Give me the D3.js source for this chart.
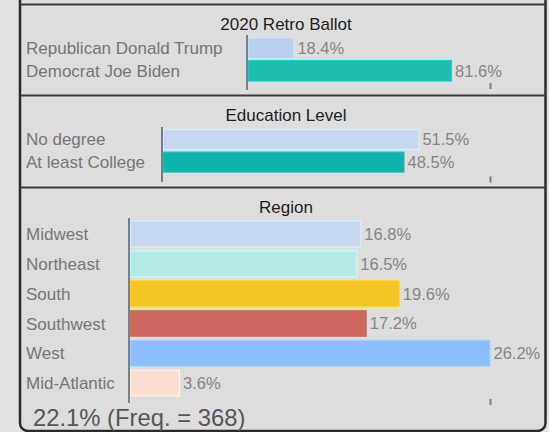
<!DOCTYPE html>
<html><head><meta charset="utf-8">
<script src="https://cdn.jsdelivr.net/npm/d3@7"></script>
<style>
html,body{margin:0;padding:0;background:#e2e2e2;}
svg{display:block;font-family:"Liberation Sans",Arial,sans-serif;}
</style></head>
<body><svg id="c" width="549" height="432"></svg>
<script>
const titles = ["2020 Retro Ballot", "Education Level", "Region"];
const ballotCats = ["Republican Donald Trump", "Democrat Joe Biden"];
const ballotVals = [18.4, 81.6];
const ballotColors = ["#b9d0f0", "#1cbcb1"];
const eduCats = ["No degree", "At least College"];
const eduVals = [51.5, 48.5];
const eduColors = ["#c6d8ef", "#0fb3a8"];
const regionCats = ["Midwest", "Northeast", "South", "Southwest", "West", "Mid-Atlantic"];
const regionVals = [16.8, 16.5, 19.6, 17.2, 26.2, 3.6];
const regionColors = ["#c6d8f0", "#b3eae5", "#f5c425", "#cd665e", "#8bbfff", "#fddfd2"];
const domainMax = [97, 65.8, 26.2];
const footer = "22.1% (Freq. = 368)";

const svg = d3.select("#c");
const fontSize = 17;

// outer box
svg.append("rect").attr("x", 20).attr("y", -12).attr("width", 525.5).attr("height", 443)
  .attr("rx", 8).attr("fill", "#dddddd").attr("stroke", "#2a2a2a").attr("stroke-width", 2.5);

// separators
[4.5, 95.5, 187.5].forEach(y => {
  svg.append("line").attr("x1", 20).attr("x2", 545.5).attr("y1", y).attr("y2", y)
    .attr("stroke", "#3a3a3a").attr("stroke-width", 2.2);
});

const panels = [
  {title: titles[0], titleY: 30, cats: ballotCats, vals: ballotVals, colors: ballotColors,
   x0: 248, band: [37, 82], pad: 0.08, axisY: [35, 90], tickY: 83, dmax: domainMax[0]},
  {title: titles[1], titleY: 121, cats: eduCats, vals: eduVals, colors: eduColors,
   x0: 163, band: [128, 173.5], pad: 0.12, axisY: [127, 182], tickY: 176.5, dmax: domainMax[1]},
  {title: titles[2], titleY: 213, cats: regionCats, vals: regionVals, colors: regionColors,
   x0: 130, band: [219.1, 397.9], pad: 0.13, axisY: [218, 403], tickY: 399, dmax: domainMax[2]}
];

panels.forEach(p => {
  const g = svg.append("g");
  const x = d3.scaleLinear().domain([0, p.dmax]).range([p.x0, 490]);
  const y = d3.scaleBand().domain(p.cats).range(p.band).paddingInner(p.pad).paddingOuter(p.pad / 2);

  g.append("text").attr("x", 286).attr("y", p.titleY).attr("text-anchor", "middle")
    .attr("font-size", fontSize).attr("fill", "#1e1e1e").text(p.title);

  g.selectAll("rect.bar").data(p.vals).join("rect").attr("class", "bar")
    .attr("x", x(0)).attr("y", (d, i) => y(p.cats[i]))
    .attr("width", d => x(d) - x(0)).attr("height", y.bandwidth())
    .attr("fill", (d, i) => p.colors[i])
    .attr("stroke", (d, i) => d3.color(p.colors[i]).brighter(0.3)).attr("stroke-width", 1);

  g.selectAll("text.cat").data(p.cats).join("text").attr("class", "cat")
    .attr("x", 26).attr("y", d => y(d) + y.bandwidth() / 2).attr("dy", "0.36em")
    .attr("font-size", fontSize).attr("fill", "#767676").text(d => d);

  g.selectAll("text.val").data(p.vals).join("text").attr("class", "val")
    .attr("x", d => x(d) + 3.5).attr("y", (d, i) => y(p.cats[i]) + y.bandwidth() / 2).attr("dy", "0.36em")
    .attr("font-size", 16.5).attr("fill", "#858585").text(d => d.toFixed(1) + "%");

  // vertical axis line
  g.append("line").attr("x1", p.x0 - 1).attr("x2", p.x0 - 1).attr("y1", p.axisY[0]).attr("y2", p.axisY[1])
    .attr("stroke", "#76808e").attr("stroke-width", 2);

  // small tick at domain max
  const ax = d3.axisBottom(x).tickValues([p.dmax]).tickSize(6).tickFormat("");
  const ag = g.append("g").attr("transform", `translate(0,${p.tickY})`).call(ax);
  ag.select(".domain").remove();
  ag.selectAll(".tick line").attr("stroke", "#76808e").attr("stroke-width", 2);
});

svg.append("text").attr("x", 33).attr("y", 426).attr("font-size", 23.8).attr("fill", "#555555").text(footer);
</script>
</body></html>
